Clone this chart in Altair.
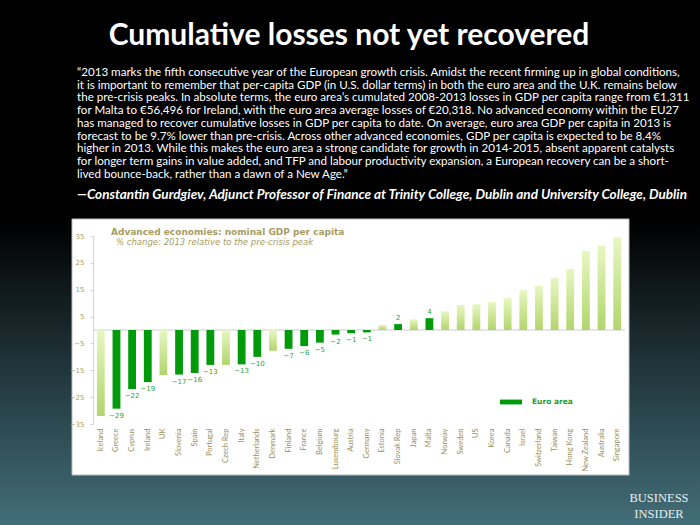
import altair as alt
import pandas as pd

countries = ["Iceland", "Greece", "Cyprus", "Ireland", "UK", "Slovenia", "Spain", "Portugal",
             "Czech Rep", "Italy", "Netherlands", "Denmark", "Finland", "France", "Belgium",
             "Luxembourg", "Austria", "Germany", "Estonia", "Slovak Rep", "Japan", "Malta",
             "Norway", "Sweden", "US", "Korea", "Canada", "Israel", "Switzerland", "Taiwan",
             "Hong Kong", "New Zealand", "Australia", "Singapore"]
values = [-32.0, -29.3, -22.0, -19.4, -16.8, -16.6, -16.0, -13.0, -13.0, -12.8, -10.0, -7.7,
          -7.0, -6.0, -4.7, -1.7, -1.2, -0.9, 1.9, 2.2, 4.0, 4.4, 7.0, 9.3, 9.6, 10.4, 11.9,
          14.8, 16.4, 19.4, 22.7, 29.4, 31.3, 34.5]
euro_members = ["Greece", "Cyprus", "Ireland", "Slovenia", "Spain", "Portugal", "Italy",
                "Netherlands", "Finland", "France", "Belgium", "Luxembourg", "Austria",
                "Germany", "Slovak Rep", "Malta"]
y_ticks = [35, 25, 15, 5, -5, -15, -25, -35]

title = "Cumulative losses not yet recovered"
quote_lines = [
    "\u201c2013 marks the fifth consecutive year of the European growth crisis. Amidst the recent firming up in global conditions,",
    "it is important to remember that per-capita GDP (in U.S. dollar terms) in both the euro area and the U.K. remains below",
    "the pre-crisis peaks. In absolute terms, the euro area\u2019s cumulated 2008-2013 losses in GDP per capita range from \u20ac1,311",
    "for Malta to \u20ac56,496 for Ireland, with the euro area average losses of \u20ac20,318. No advanced economy within the EU27",
    "has managed to recover cumulative losses in GDP per capita to date. On average, euro area GDP per capita in 2013 is",
    "forecast to be 9.7% lower than pre-crisis. Across other advanced economies, GDP per capita is expected to be 8.4%",
    "higher in 2013. While this makes the euro area a strong candidate for growth in 2014-2015, absent apparent catalysts",
    "for longer term gains in value added, and TFP and labour productivity expansion, a European recovery can be a short-",
    "lived bounce-back, rather than a dawn of a New Age.\u201d",
]
attribution = "\u2014Constantin Gurdgiev, Adjunct Professor of Finance at Trinity College, Dublin and University College, Dublin"
chart_title = "Advanced economies: nominal GDP per capita"
chart_subtitle = "% change: 2013 relative to the pre-crisis peak"

df = pd.DataFrame({
    "country": countries,
    "value": values,
    "group": ["Euro area" if c in euro_members else "Other" for c in countries],
})
one = pd.DataFrame({"a": [0]})

# plot area geometry (pixels)
L, T, W, H = 93, 236, 532, 188
CW, CH = 700, 525

x_enc = alt.X("country:N", sort=countries,
              scale=alt.Scale(paddingInner=0.5, paddingOuter=0.25),
              axis=alt.Axis(title=None, labelAngle=-90, domain=False, ticks=False,
                            labelFont="Lato", labelFontSize=7.5, labelColor="#9a8f5c",
                            labelPadding=4, zindex=2))
y_scale = alt.Scale(domain=[-35, 35], nice=False, zero=True)
y_axis = alt.Axis(values=y_ticks, title=None, grid=False, domainColor="#d4d4d4",
                  tickColor="#d4d4d4", tickSize=3, labelColor="#a89c6a",
                  labelFont="DejaVu Sans", labelFontSize=7, labelPadding=6,
                  labelOverlap=False, labelFlush=False, labelBound=False, zindex=2)
y_enc = alt.Y("value:Q", scale=y_scale, axis=y_axis)

bg = alt.Chart(one).mark_rect(
    color={"gradient": "linear", "x1": 0, "y1": 0, "x2": 0, "y2": 1,
           "stops": [{"offset": 0, "color": "#000000"},
                     {"offset": 0.42, "color": "#000000"},
                     {"offset": 1, "color": "#436e79"}]}
).encode(x=alt.value(-L), x2=alt.value(CW - L), y=alt.value(-T), y2=alt.value(CH - T))

box = alt.Chart(one).mark_rect(fill="white", stroke="#bdbdbd", strokeWidth=1).encode(
    x=alt.value(72 - L), x2=alt.value(629 - L), y=alt.value(219 - T), y2=alt.value(475 - T))

bars_other = alt.Chart(df).transform_filter(alt.datum.group == "Other").mark_bar(
    color={"gradient": "linear", "x1": 0, "y1": 0, "x2": 0, "y2": 1,
           "stops": [{"offset": 0, "color": "#e8f7c2"},
                     {"offset": 1, "color": "#b2d56c"}]}
).encode(x=x_enc, y=y_enc)

bars_euro = alt.Chart(df).transform_filter(alt.datum.group == "Euro area").mark_bar().encode(
    x=x_enc, y=y_enc,
    color=alt.Color("group:N", scale=alt.Scale(domain=["Euro area"], range=["#009a0a"]),
                    legend=alt.Legend(title=None, orient="none", legendX=406, legendY=154,
                                      symbolType="M-1,-0.22H1V0.22H-1Z", symbolSize=484,
                                      labelFont="DejaVu Sans", labelFontWeight="bold",
                                      labelFontSize=7.5, labelColor="#2a9a2a",
                                      labelOffset=9, padding=0, zindex=2)))

zero = alt.Chart(one).mark_rule(color="#cccccc", strokeWidth=1).encode(
    y=alt.YDatum(0, scale=y_scale, axis=y_axis), x=alt.value(0), x2=alt.value(W))

lab_neg = alt.Chart(df).transform_filter(
    (alt.datum.group == "Euro area") & (alt.datum.value < 0)
).mark_text(dy=7, baseline="middle", font="DejaVu Sans", fontSize=7, color="#2f9f2f").encode(
    x=x_enc, y=y_enc, text=alt.Text("value:Q", format="d"))
lab_pos = alt.Chart(df).transform_filter(
    (alt.datum.group == "Euro area") & (alt.datum.value > 0)
).mark_text(dy=-6, baseline="middle", font="DejaVu Sans", fontSize=7, color="#2f9f2f").encode(
    x=x_enc, y=y_enc, text=alt.Text("value:Q", format="d"))

t_title = alt.Chart(one).mark_text(text=title, font="Lato", fontWeight="bold", fontSize=30,
                                   color="white", align="center", baseline="alphabetic").encode(
    x=alt.value(349 - L), y=alt.value(45 - T))
t_quote = alt.Chart(one).mark_text(text=quote_lines, font="Lato", fontSize=11.6, lineHeight=12.7,
                                   color="white", align="left", baseline="alphabetic").encode(
    x=alt.value(77 - L), y=alt.value(76 - T))
t_attr = alt.Chart(one).mark_text(text=attribution, font="Lato", fontWeight="bold",
                                  fontStyle="italic", fontSize=13.5, color="white",
                                  align="left", baseline="alphabetic").encode(
    x=alt.value(77 - L), y=alt.value(199 - T))
t_ct = alt.Chart(one).mark_text(text=chart_title, font="DejaVu Sans", fontWeight="bold",
                                fontSize=9, color="#a89c64", align="left",
                                baseline="middle").encode(
    x=alt.value(111 - L), y=alt.value(232 - T))
t_cs = alt.Chart(one).mark_text(text=chart_subtitle, font="DejaVu Sans", fontStyle="italic",
                                fontSize=8.5, color="#a89c64", align="left",
                                baseline="middle").encode(
    x=alt.value(116 - L), y=alt.value(242 - T))
t_bi1 = alt.Chart(one).mark_text(text="BUSINESS", font="Liberation Serif", fontSize=12.5,
                                 color="#e8eef0", align="center", baseline="alphabetic").encode(
    x=alt.value(659 - L), y=alt.value(502 - T))
t_bi2 = alt.Chart(one).mark_text(text="INSIDER", font="Liberation Serif", fontSize=12.5,
                                 color="#e8eef0", align="center", baseline="alphabetic").encode(
    x=alt.value(659 - L), y=alt.value(518 - T))

chart = alt.layer(
    bg, box, zero, bars_other, bars_euro, lab_neg, lab_pos,
    t_title, t_quote, t_attr, t_ct, t_cs, t_bi1, t_bi2
).properties(
    width=W, height=H,
    autosize=alt.AutoSizeParams(type="none"),
    padding={"left": L, "top": T, "right": CW - L - W, "bottom": CH - T - H},
    background="black",
).configure_view(stroke=None)

chart.save("out.html", embed_options={"renderer": "svg", "actions": False})
